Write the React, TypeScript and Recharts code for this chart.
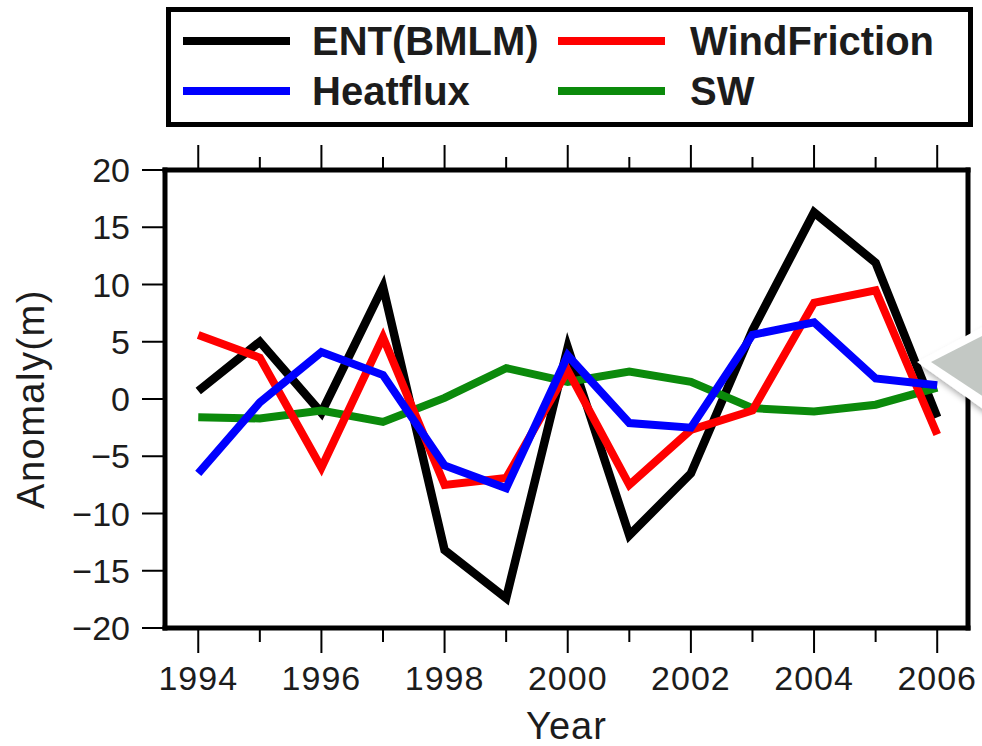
import React from 'react';
import { LineChart, Line, XAxis, YAxis, Label } from 'recharts';

// values
const years = [1994, 1995, 1996, 1997, 1998, 1999, 2000, 2001, 2002, 2003, 2004, 2005, 2006];
const entBmlm = [0.7, 5.0, -1.2, 9.8, -13.2, -17.4, 4.5, -11.9, -6.5, 6.0, 16.3, 11.9, -1.6];
const windFriction = [5.6, 3.6, -6.0, 5.4, -7.5, -6.9, 2.5, -7.5, -2.7, -1.0, 8.4, 9.5, -3.1];
const heatflux = [-6.5, -0.3, 4.1, 2.1, -5.8, -7.8, 3.8, -2.1, -2.5, 5.6, 6.7, 1.8, 1.2];
const sw = [-1.6, -1.7, -1.0, -2.0, 0.1, 2.7, 1.5, 2.4, 1.5, -0.8, -1.1, -0.5, 1.0];
const yTicks = [-20, -15, -10, -5, 0, 5, 10, 15, 20];

const data = years.map((year, i) => ({
  year,
  ent: entBmlm[i],
  wind: windFriction[i],
  heat: heatflux[i],
  sw: sw[i],
}));

// legend order (row by row)
const series = [
  { key: 'ent', name: 'ENT(BMLM)', color: '#000000', width: 8.5 },
  { key: 'wind', name: 'WindFriction', color: '#ff0000', width: 8 },
  { key: 'heat', name: 'Heatflux', color: '#0000ff', width: 8 },
  { key: 'sw', name: 'SW', color: '#0b8a0b', width: 8 },
];
// drawing order
const drawOrder = ['ent', 'sw', 'wind', 'heat'];

const TEXT = '#1c1c1c';
const minus = (v: number) => (v < 0 ? `\u2212${Math.abs(v)}` : `${v}`);

function BottomTick(props: any) {
  const { x, y, payload } = props;
  const major = payload.value % 2 === 0;
  return (
    <g>
      <line x1={x} y1={y} x2={x} y2={y + (major ? 25 : 14)} stroke="#000" strokeWidth={2} />
      {major && (
        <text x={x} y={y + 62} textAnchor="middle" fontSize={34} letterSpacing={1} fill={TEXT}>
          {payload.value}
        </text>
      )}
    </g>
  );
}

function TopTick(props: any) {
  const { x, y, payload } = props;
  const major = payload.value % 2 === 0;
  return <line x1={x} y1={y} x2={x} y2={y - (major ? 25 : 13)} stroke="#000" strokeWidth={2} />;
}

function LegendBox() {
  return (
    <div
      style={{
        position: 'absolute',
        left: 166,
        top: 7,
        width: 807,
        height: 120,
        border: '5px solid #000',
        boxSizing: 'border-box',
        background: '#fff',
      }}
    >
      {series.map((s, i) => {
        const col = i % 2;
        const row = Math.floor(i / 2);
        return (
          <div
            key={s.key}
            style={{
              position: 'absolute',
              left: col === 0 ? 12 : 387,
              top: row === 0 ? 29 : 79,
              transform: 'translateY(-50%)',
              display: 'flex',
              alignItems: 'center',
              whiteSpace: 'nowrap',
            }}
          >
            <div style={{ width: 107, height: 8, background: s.color }} />
            <span
              style={{
                marginLeft: col === 0 ? 22 : 25,
                fontSize: 40,
                fontWeight: 'bold',
                color: TEXT,
                lineHeight: 1.1,
              }}
            >
              {s.name}
            </span>
          </div>
        );
      })}
    </div>
  );
}

export default function App() {
  return (
    <div
      style={{
        position: 'absolute',
        left: 0,
        top: 0,
        width: 982,
        height: 746,
        background: '#fff',
        overflow: 'hidden',
        fontFamily: '"Liberation Sans", Arial, Helvetica, sans-serif',
      }}
    >
      <LineChart width={982} height={746} data={data} margin={{ top: 0, right: 0, bottom: 0, left: 0 }}>
        <XAxis
          dataKey="year"
          type="number"
          domain={[1993.46, 2006.5]}
          ticks={years}
          interval={0}
          height={118}
          tickSize={0}
          tickMargin={0}
          tickLine={false}
          tick={<BottomTick />}
          axisLine={{ stroke: '#000', strokeWidth: 5, strokeLinecap: 'square' }}
        >
          <Label
            value="Year"
            position="insideBottom"
            offset={7}
            style={{ fontSize: 38, fill: TEXT, letterSpacing: 1 }}
          />
        </XAxis>
        <XAxis
          xAxisId="top"
          orientation="top"
          dataKey="year"
          type="number"
          domain={[1993.46, 2006.5]}
          ticks={years}
          interval={0}
          height={170}
          tickSize={0}
          tickMargin={0}
          tickLine={false}
          tick={<TopTick />}
          axisLine={{ stroke: '#000', strokeWidth: 5, strokeLinecap: 'square' }}
        />
        <YAxis
          type="number"
          domain={[-20, 20]}
          ticks={yTicks}
          interval={0}
          width={165}
          tickSize={23}
          tickMargin={12}
          tickFormatter={minus}
          tick={{ fontSize: 34, fill: TEXT }}
          tickLine={{ stroke: '#000', strokeWidth: 2 }}
          axisLine={{ stroke: '#000', strokeWidth: 5, strokeLinecap: 'square' }}
        >
          <Label
            value="Anomaly(m)"
            angle={-90}
            position="insideLeft"
            offset={31}
            style={{ textAnchor: 'middle', fontSize: 38, fill: TEXT, letterSpacing: 1.5 }}
          />
        </YAxis>
        <YAxis
          yAxisId="right"
          orientation="right"
          type="number"
          domain={[-20, 20]}
          ticks={yTicks}
          interval={0}
          width={14}
          tickSize={14}
          tickFormatter={() => ''}
          tickLine={{ stroke: '#000', strokeWidth: 2 }}
          axisLine={{ stroke: '#000', strokeWidth: 5, strokeLinecap: 'square' }}
        />
        {drawOrder.map((k) => {
          const s = series.find((d) => d.key === k)!;
          return (
            <Line
              key={s.key}
              type="linear"
              dataKey={s.key}
              name={s.name}
              stroke={s.color}
              strokeWidth={s.width}
              strokeLinejoin="miter"
              strokeLinecap="butt"
              dot={false}
              activeDot={false}
              isAnimationActive={false}
            />
          );
        })}
      </LineChart>
      <LegendBox />
      {/* grey pointer shape pasted over the right edge of the figure */}
      <svg
        width={982}
        height={746}
        style={{ position: 'absolute', left: 0, top: 0, pointerEvents: 'none' }}
      >
        <defs>
          <filter id="sh" x="-20%" y="-20%" width="140%" height="160%">
            <feDropShadow dx="2" dy="4" stdDeviation="3" floodColor="#000" floodOpacity="0.35" />
          </filter>
        </defs>
        <polygon points="917,362 990,323 990,414" fill="#fff" filter="url(#sh)" />
        <polygon points="931,362 990,332 990,401" fill="#c3c8c4" />
      </svg>
    </div>
  );
}
